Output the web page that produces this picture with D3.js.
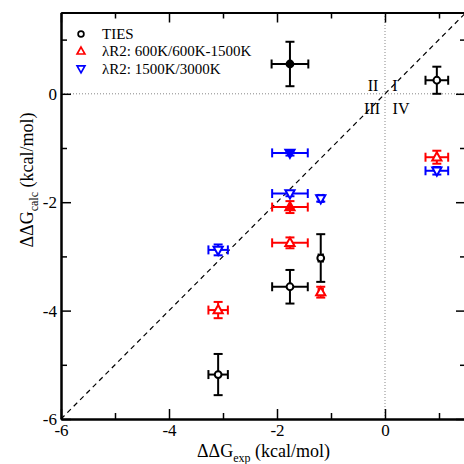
<!DOCTYPE html>
<html>
<head>
<meta charset="utf-8">
<script src="https://cdn.jsdelivr.net/npm/d3@7"></script>
<style>
body { margin: 0; background: #fff; }
svg { display: block; }
text { font-family: 'Liberation Serif', 'Times New Roman', serif; }
</style>
</head>
<body>
<script>
// DATA
const seriesNames = ['TIES', 'λR2: 600K/600K-1500K', 'λR2: 1500K/3000K'];
const seriesColors = ['black', 'red', 'blue'];
const seriesShapes = ['circle', 'triangleUp', 'triangleDown'];

const tiesX    = [-1.76, 0.96, -1.76, -1.19, -3.09];
const tiesY    = [0.55, 0.25, -3.56, -3.03, -5.18];
const tiesXErr = [0.34, 0.21, 0.33, 0.04, 0.18];
const tiesYErr = [0.41, 0.25, 0.31, 0.44, 0.38];
const tiesFill = [true, false, false, false, false];

const r600X    = [-1.76, -1.76, -1.19, -3.09, 0.96];
const r600Y    = [-2.09, -2.75, -3.66, -3.99, -1.17];
const r600XErr = [0.33, 0.33, 0.04, 0.18, 0.21];
const r600YErr = [0.11, 0.1, 0.1, 0.15, 0.12];
const r600Fill = [true, false, false, false, false];

const r1500X    = [-1.76, -1.76, -1.19, -3.09, 0.96];
const r1500Y    = [-1.09, -1.84, -1.93, -2.88, -1.42];
const r1500XErr = [0.33, 0.33, 0.04, 0.18, 0.21];
const r1500YErr = [0.05, 0.05, 0.06, 0.1, 0.07];
const r1500Fill = [true, false, false, false, false];

const majorTicks = [-6, -4, -2, 0];
const minorTicks = [-5, -3, -1, 1];
const quadrantLabels = ['II', 'I', 'III', 'IV'];

// DEFS
const width = 464, height = 464;
const plot = {left: 61, right: 466, top: 12.5, bottom: 419};

const x = d3.scaleLinear().domain([-6, 1.5]).range([plot.left, plot.right]);
const y = d3.scaleLinear().domain([-6, 1.5]).range([plot.bottom, plot.top]);

const svg = d3.select('body').append('svg').attr('width', width).attr('height', height);

// reference lines
svg.append('line')
    .attr('x1', x(0)).attr('x2', x(0)).attr('y1', y(-6)).attr('y2', y(1.5))
    .attr('stroke', '#888').attr('stroke-width', 1).attr('stroke-dasharray', '1,2');
svg.append('line')
    .attr('x1', x(-6)).attr('x2', x(1.5)).attr('y1', y(0)).attr('y2', y(0))
    .attr('stroke', '#888').attr('stroke-width', 1).attr('stroke-dasharray', '1,2');
svg.append('line')
    .attr('x1', x(-6)).attr('y1', y(-6)).attr('x2', x(1.5)).attr('y2', y(1.5))
    .attr('stroke', 'black').attr('stroke-width', 1.2).attr('stroke-dasharray', '5,4');

// quadrant labels
const quadPos = [[x(0) - 12, y(0) - 3], [x(0) + 10, y(0) - 3], [x(0) - 13, y(0) + 20], [x(0) + 16, y(0) + 20]];
svg.selectAll('.quad').data(quadrantLabels).enter().append('text')
    .attr('class', 'quad')
    .attr('x', (d, i) => quadPos[i][0]).attr('y', (d, i) => quadPos[i][1])
    .attr('text-anchor', 'middle')
    .style('font-size', '16px')
    .text(d => d);

// AXES
function axisStyle(g) {
    g.attr('font-family', null);
    g.select('.domain').attr('stroke-width', 2);
    g.selectAll('.tick line').attr('stroke-width', 1.5);
    g.selectAll('.tick text').style('font-size', '17px');
}
const fmt = d => d3.format('d')(d).replace('−', '-');

svg.append('g').attr('transform', `translate(0,${plot.bottom})`)
    .call(d3.axisBottom(x).tickValues(majorTicks).tickSizeInner(-10).tickSizeOuter(0).tickPadding(5).tickFormat(fmt))
    .call(axisStyle);
svg.append('g').attr('transform', `translate(0,${plot.bottom})`)
    .call(d3.axisBottom(x).tickValues(minorTicks).tickSizeInner(-6).tickSizeOuter(0).tickFormat(''))
    .call(axisStyle);
svg.append('g').attr('transform', `translate(0,${plot.top})`)
    .call(d3.axisTop(x).tickValues(majorTicks).tickSizeInner(-10).tickSizeOuter(0).tickFormat(''))
    .call(axisStyle);
svg.append('g').attr('transform', `translate(0,${plot.top})`)
    .call(d3.axisTop(x).tickValues(minorTicks).tickSizeInner(-6).tickSizeOuter(0).tickFormat(''))
    .call(axisStyle);
svg.append('g').attr('transform', `translate(${plot.left},0)`)
    .call(d3.axisLeft(y).tickValues(majorTicks).tickSizeInner(-10).tickSizeOuter(0).tickPadding(4).tickFormat(fmt))
    .call(axisStyle);
svg.append('g').attr('transform', `translate(${plot.left},0)`)
    .call(d3.axisLeft(y).tickValues(minorTicks).tickSizeInner(-6).tickSizeOuter(0).tickFormat(''))
    .call(axisStyle);
svg.append('g').attr('transform', `translate(${plot.right},0)`)
    .call(d3.axisRight(y).tickValues(majorTicks).tickSizeInner(-10).tickSizeOuter(0).tickFormat(''))
    .call(axisStyle);
svg.append('g').attr('transform', `translate(${plot.right},0)`)
    .call(d3.axisRight(y).tickValues(minorTicks).tickSizeInner(-6).tickSizeOuter(0).tickFormat(''))
    .call(axisStyle);

// axis titles
const xTitle = svg.append('text')
    .attr('x', (plot.left + plot.right) / 2).attr('y', 457)
    .attr('text-anchor', 'middle').style('font-size', '18px');
xTitle.append('tspan').text('ΔΔG');
xTitle.append('tspan').attr('dy', 5).style('font-size', '12px').text('exp');
xTitle.append('tspan').attr('dy', -5).text(' (kcal/mol)');

const yTitle = svg.append('text')
    .attr('transform', 'translate(33,180) rotate(-90)')
    .attr('text-anchor', 'middle').style('font-size', '18px');
yTitle.append('tspan').text('ΔΔG');
yTitle.append('tspan').attr('dy', 5).style('font-size', '12px').text('calc');
yTitle.append('tspan').attr('dy', -5).text(' (kcal/mol)');

// SERIES
const series = [
    {xs: tiesX, ys: tiesY, xe: tiesXErr, ye: tiesYErr, fill: tiesFill},
    {xs: r600X, ys: r600Y, xe: r600XErr, ye: r600YErr, fill: r600Fill},
    {xs: r1500X, ys: r1500Y, xe: r1500XErr, ye: r1500YErr, fill: r1500Fill}
];
const symbolPath = {
    circle: d3.symbol().type(d3.symbolCircle).size(36)(),
    triangleUp: 'M0,-5L4.6,3.2L-4.6,3.2Z',
    triangleDown: 'M0,5L4.6,-3.2L-4.6,-3.2Z'
};
const cap = 4.5;

series.forEach((s, si) => {
    const color = seriesColors[si];
    const pts = s.xs.map((v, i) => ({x: v, y: s.ys[i], xe: s.xe[i], ye: s.ye[i], fill: s.fill[i]}));
    const g = svg.append('g').attr('stroke', color).attr('stroke-width', 2);
    pts.forEach(p => {
        const cx = x(p.x), cy = y(p.y);
        const x0 = x(p.x - p.xe), x1 = x(p.x + p.xe);
        const y0 = y(p.y - p.ye), y1 = y(p.y + p.ye);
        g.append('line').attr('x1', x0).attr('x2', x1).attr('y1', cy).attr('y2', cy);
        g.append('line').attr('x1', x0).attr('x2', x0).attr('y1', cy - cap).attr('y2', cy + cap);
        g.append('line').attr('x1', x1).attr('x2', x1).attr('y1', cy - cap).attr('y2', cy + cap);
        g.append('line').attr('x1', cx).attr('x2', cx).attr('y1', y0).attr('y2', y1);
        g.append('line').attr('x1', cx - cap).attr('x2', cx + cap).attr('y1', y0).attr('y2', y0);
        g.append('line').attr('x1', cx - cap).attr('x2', cx + cap).attr('y1', y1).attr('y2', y1);
        g.append('path')
            .attr('d', symbolPath[seriesShapes[si]])
            .attr('transform', `translate(${cx},${cy})`)
            .attr('fill', p.fill ? color : 'white');
    });
});

// LEGEND
const legend = svg.append('g').attr('transform', 'translate(81,34)');
seriesNames.forEach((name, i) => {
    legend.append('path')
        .attr('d', symbolPath[seriesShapes[i]])
        .attr('transform', `translate(0,${i * 17.3}) scale(0.85)`)
        .attr('fill', 'white').attr('stroke', seriesColors[i]).attr('stroke-width', 2);
    legend.append('text')
        .attr('x', 21).attr('y', i * 17.3 + 5)
        .style('font-size', '15px')
        .text(name);
});
</script>
</body>
</html>
